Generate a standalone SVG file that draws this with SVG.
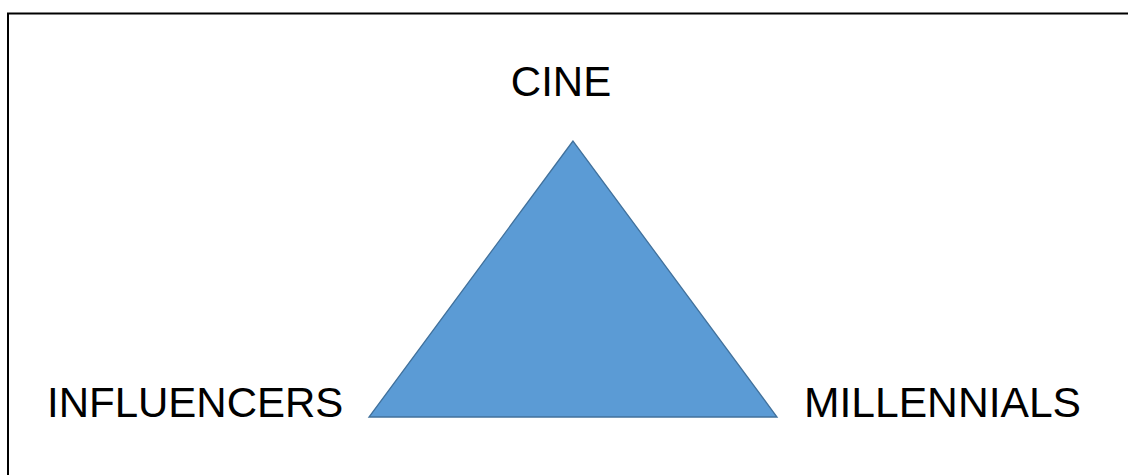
<svg xmlns="http://www.w3.org/2000/svg" width="1128" height="475" viewBox="0 0 1128 475">
<style>
.lbl{font-family:"Liberation Sans",Arial,sans-serif;font-size:42px;fill:#000}
</style>
<rect x="0" y="0" width="1128" height="475" fill="#fff"/>
<rect x="8" y="13.5" width="1200" height="500" fill="none" stroke="#000" stroke-width="2"/>
<g id="triangle">
<polygon points="573,141 369,417 777,417" fill="#5B9BD5" stroke="#41719C" stroke-width="1.3"/>
</g>
<g id="cine"><text class="lbl" x="561" y="96" text-anchor="middle">CINE</text></g>
<g id="influencers"><text class="lbl" x="47" y="417">INFLUENCERS</text></g>
<g id="millennials"><text class="lbl" x="804" y="417" textLength="277" lengthAdjust="spacingAndGlyphs">MILLENNIALS</text></g>
<g id="connectors"></g>
</svg>
